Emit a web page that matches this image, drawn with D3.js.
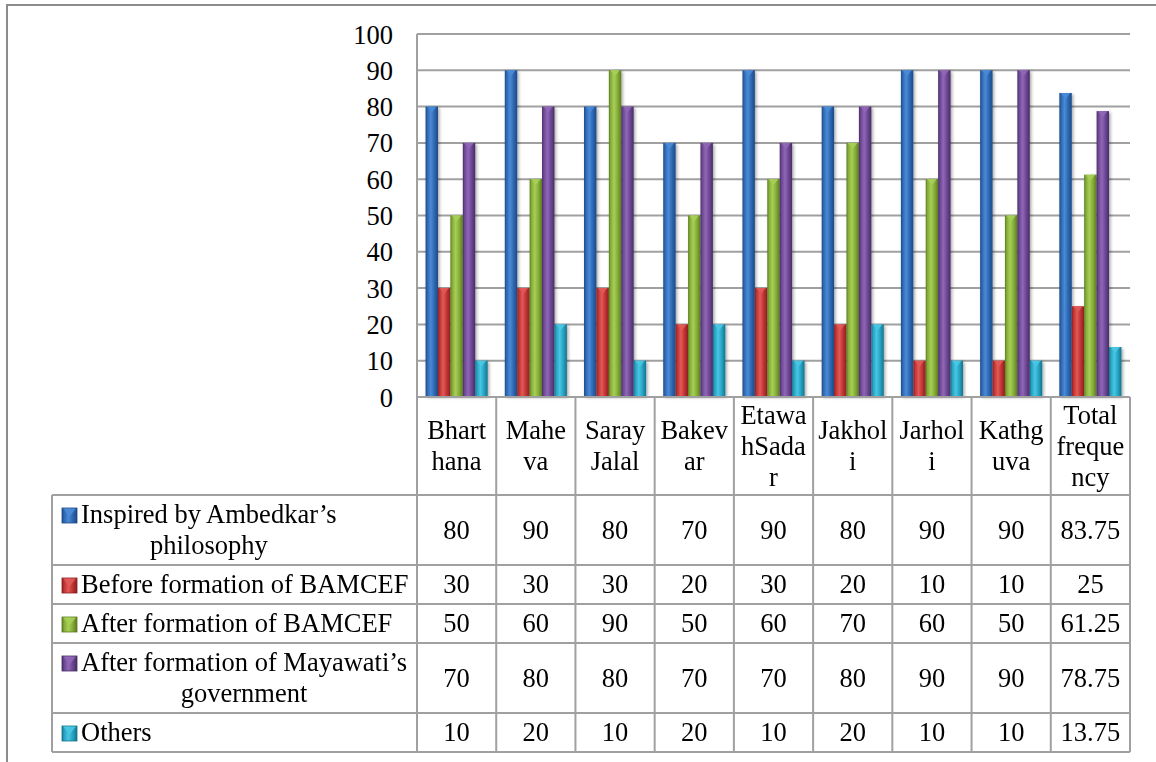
<!DOCTYPE html>
<html>
<head>
<meta charset="utf-8">
<script src="https://cdn.jsdelivr.net/npm/d3@7/dist/d3.min.js"></script>
<style>
  html, body { margin: 0; padding: 0; background: #fff; }
  svg { display: block; }
  svg text { font-family: "Times New Roman", Times, "Liberation Serif", "DejaVu Serif", serif !important; fill: #000; }
</style>
</head>
<body>
<svg id="chart" width="1156" height="762"></svg>
<script>
// ---- data ----
const categories = ["Bharthana", "Maheva", "Saray Jalal", "Bakevar", "EtawahSadar",
                    "Jakholi", "Jarholi", "Kathguva", "Total frequency"];
// header text as it wraps inside the narrow table columns
const categoryLines = [["Bhart", "hana"], ["Mahe", "va"], ["Saray", "Jalal"], ["Bakev", "ar"],
                       ["Etawa", "hSada", "r"], ["Jakhol", "i"], ["Jarhol", "i"],
                       ["Kathg", "uva"], ["Total", "freque", "ncy"]];

const seriesNames = ["Inspired by Ambedkar’s philosophy", "Before formation of BAMCEF",
                     "After formation of BAMCEF", "After formation of Mayawati’s government", "Others"];
const seriesLines = [["Inspired by Ambedkar’s", "philosophy"], ["Before formation of BAMCEF"],
                     ["After formation of BAMCEF"], ["After formation of Mayawati’s", "government"], ["Others"]];

const inspired  = [80, 90, 80, 70, 90, 80, 90, 90, 83.75];
const beforeBam = [30, 30, 30, 20, 30, 20, 10, 10, 25];
const afterBam  = [50, 60, 90, 50, 60, 70, 60, 50, 61.25];
const afterMaya = [70, 80, 80, 70, 70, 80, 90, 90, 78.75];
const others    = [10, 20, 10, 20, 10, 20, 10, 10, 13.75];
const seriesValues = [inspired, beforeBam, afterBam, afterMaya, others];

const yTicks = [0, 10, 20, 30, 40, 50, 60, 70, 80, 90, 100];

// bar palette: [edge, base, highlight]
const palette = [
  ["#1d4a85", "#2d66b0", "#4a8ad6"],
  ["#8a2020", "#c03232", "#e05a57"],
  ["#5a7a20", "#84ab36", "#a6cf58"],
  ["#472d64", "#6b4692", "#8f67b6"],
  ["#15738b", "#25a2c2", "#4ac6e2"]
];

// ---- layout ----
const svg = d3.select("#chart");
const plotLeft = 417, plotRight = 1130, plotTop = 34, plotBottom = 397;
const tableLeft = 52;
const lineH = 31;
const font = 26.5;
const gridColor = "#a0a0a0";
const serif = "'Times New Roman', Times, 'Liberation Serif', 'DejaVu Serif', serif";

// frame
svg.append("path")
  .attr("d", "M7,762 V5 H1156")
  .attr("fill", "none").attr("stroke", "#8c8c8c").attr("stroke-width", 2);

const x = d3.scaleBand().domain(categories).range([plotLeft, plotRight]).padding(0);
const xInner = d3.scaleBand().domain(d3.range(seriesNames.length))
  .range([0, x.bandwidth()]).paddingInner(0).paddingOuter(0.69);
const y = d3.scaleLinear().domain([0, 100]).range([plotBottom, plotTop]);

// gradients and shadow
const defs = svg.append("defs");
palette.forEach((c, i) => {
  const g = defs.append("linearGradient").attr("id", "bar" + i)
    .attr("x1", "0%").attr("x2", "100%").attr("y1", "0%").attr("y2", "0%");
  [[0, c[0]], [0.14, c[1]], [0.42, c[2]], [0.72, c[1]], [1, c[0]]].forEach(s =>
    g.append("stop").attr("offset", s[0]).attr("stop-color", s[1]));
});
const f = defs.append("filter").attr("id", "shadow")
  .attr("x", "-30%").attr("y", "-5%").attr("width", "160%").attr("height", "115%");
f.append("feDropShadow").attr("dx", 1.5).attr("dy", 1.5).attr("stdDeviation", 1.5)
  .attr("flood-color", "#000").attr("flood-opacity", 0.35);

// gridlines
svg.append("g").selectAll("line").data(yTicks).join("line")
  .attr("x1", plotLeft).attr("x2", plotRight)
  .attr("y1", d => y(d)).attr("y2", d => y(d))
  .attr("stroke", gridColor).attr("stroke-width", 2);
svg.append("line")
  .attr("x1", plotLeft).attr("x2", plotLeft).attr("y1", plotTop).attr("y2", plotBottom)
  .attr("stroke", gridColor).attr("stroke-width", 2);

// y axis labels
const yAxis = d3.axisLeft(y).tickValues(yTicks).tickSize(0).tickPadding(0);
const ya = svg.append("g").attr("transform", `translate(${plotLeft - 24},0)`).call(yAxis);
ya.attr("font-family", serif).attr("font-size", font);
ya.select(".domain").remove();
ya.selectAll("text").attr("font-size", font).attr("fill", "#000").attr("dy", "0.34em");

// bars
const bars = svg.append("g").attr("filter", "url(#shadow)");
seriesValues.forEach((vals, si) => {
  const g = bars.append("g");
  vals.forEach((v, ci) => {
    const x0 = x(categories[ci]) + xInner(si);
    const w = xInner.bandwidth();
    const top = y(v);
    g.append("rect")
      .attr("x", x0).attr("y", top)
      .attr("width", w).attr("height", y(0) - top - 1)
      .attr("fill", `url(#bar${si})`);
    // bevelled cap
    g.append("path")
      .attr("d", `M${x0 + 1.5},${top} L${x0 + w - 1.5},${top} L${x0 + w / 2},${top + 6} Z`)
      .attr("fill", palette[si][2]).attr("opacity", 0.9);
  });
});

// ---- data table ----
const headerH = d3.max(categoryLines, l => l.length) * lineH + 5;
const rowHeights = seriesLines.map(l => l.length * lineH + 8);
const rowTops = [];
let acc = plotBottom + headerH;
rowHeights.forEach(h => { rowTops.push(acc); acc += h; });
const tableBottom = acc;

const table = svg.append("g").attr("font-family", serif);
const tStroke = { stroke: "#a0a0a0", w: 2 };

// horizontal rules
const hRules = [{ y: plotBottom, x1: plotLeft }]
  .concat(rowTops.map(t => ({ y: t, x1: tableLeft })))
  .concat([{ y: tableBottom, x1: tableLeft }]);
table.selectAll("line.h").data(hRules).join("line")
  .attr("x1", d => d.x1).attr("x2", plotRight)
  .attr("y1", d => d.y).attr("y2", d => d.y)
  .attr("stroke", tStroke.stroke).attr("stroke-width", tStroke.w);

// vertical rules
const colEdges = categories.map(c => x(c)).concat([plotRight]);
table.selectAll("line.v").data(colEdges).join("line")
  .attr("x1", d => d).attr("x2", d => d)
  .attr("y1", plotBottom).attr("y2", tableBottom)
  .attr("stroke", tStroke.stroke).attr("stroke-width", tStroke.w);
table.append("line")
  .attr("x1", tableLeft).attr("x2", tableLeft)
  .attr("y1", rowTops[0]).attr("y2", tableBottom)
  .attr("stroke", tStroke.stroke).attr("stroke-width", tStroke.w);

// column headers
categories.forEach((c, ci) => {
  const lines = categoryLines[ci];
  const cx = x(c) + x.bandwidth() / 2;
  const cy = plotBottom + headerH / 2;
  lines.forEach((ln, li) => {
    table.append("text")
      .attr("x", cx)
      .attr("y", cy + (li - (lines.length - 1) / 2) * lineH + 8.5)
      .attr("text-anchor", "middle").attr("font-size", font).text(ln);
  });
});

// series rows: legend key + name, then values
seriesLines.forEach((lines, si) => {
  const top = rowTops[si], h = rowHeights[si];
  const cy = top + h / 2;
  const textLeft = 81;
  const widths = lines.map(ln => {
    const t = table.append("text").attr("font-size", font).text(ln);
    const w = t.node().getComputedTextLength();
    t.remove();
    return w;
  });
  const center = textLeft + d3.max(widths) / 2;
  lines.forEach((ln, li) => {
    const ly = cy + (li - (lines.length - 1) / 2) * lineH;
    table.append("text")
      .attr("x", center).attr("y", ly + 8.5)
      .attr("text-anchor", "middle").attr("font-size", font).text(ln);
  });
  // legend key
  const ky = cy - (lines.length - 1) / 2 * lineH;
  const kx = 62, ks = 15;
  table.append("rect").attr("x", kx).attr("y", ky - ks / 2 + 1)
    .attr("width", ks).attr("height", ks)
    .attr("fill", `url(#bar${si})`).attr("stroke", palette[si][0]).attr("stroke-width", 0.8);
  table.append("path")
    .attr("d", `M${kx + 1},${ky - ks / 2 + 1.5} L${kx + ks - 1},${ky - ks / 2 + 1.5} L${kx + ks / 2},${ky + 2} Z`)
    .attr("fill", palette[si][2]).attr("opacity", 0.9);

  seriesValues[si].forEach((v, ci) => {
    table.append("text")
      .attr("x", x(categories[ci]) + x.bandwidth() / 2)
      .attr("y", cy + 8.5)
      .attr("text-anchor", "middle").attr("font-size", font).text(String(v));
  });
});
</script>
</body>
</html>
